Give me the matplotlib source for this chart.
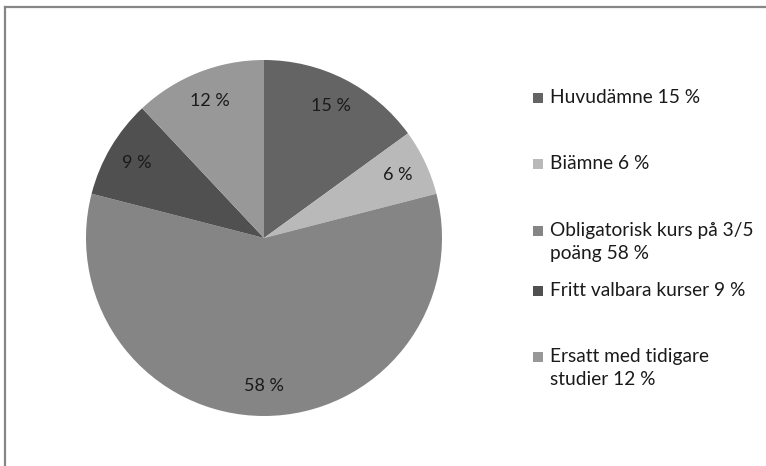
import matplotlib
matplotlib.use("Agg")
import matplotlib.pyplot as plt
from matplotlib.lines import Line2D
from matplotlib.patches import Rectangle

plt.rcParams['font.family'] = ['Lato', 'DejaVu Sans']

# Data
categories = ['Huvudämne', 'Biämne', 'Obligatorisk kurs på 3/5\npoäng', 'Fritt valbara kurser',
              'Ersatt med tidigare\nstudier']
values = [15, 6, 58, 9, 12]
colors = ['#646464', '#b9b9b9', '#858585', '#505050', '#989898']

W, H = 766, 466
fig = plt.figure(figsize=(W / 100, H / 100), dpi=100)

# pie axes, centre (264, 238) px, radius 178 px
cx, cy, r = 264, 238, 178
ax = fig.add_axes([(cx - r) / W, (H - cy - r) / H, 2 * r / W, 2 * r / H])
wedges, texts, autotexts = ax.pie(values, colors=colors, startangle=90, counterclock=False,
                                  autopct=lambda p: f'{p:.0f} %', pctdistance=0.83,
                                  textprops=dict(fontsize=13, color='#1a1a1a'))
ax.set_xlim(-1, 1)
ax.set_ylim(-1, 1)
ax.set_aspect('equal')

# legend drawn by hand (Excel-style spacing); y = baseline of first line in px
legend_y = [103, 169, 236, 296, 362]
line_gap = 23
for lab, val, col, y in zip(categories, values, colors, legend_y):
    fig.patches.append(Rectangle((533 / W, 1 - y / H), 10 / W, 10 / H,
                                 transform=fig.transFigure, facecolor=col, edgecolor='none'))
    for i, line in enumerate(f'{lab} {val} %'.split('\n')):
        fig.text(550 / W, 1 - (y + i * line_gap) / H, line, fontsize=13.8, color='#1a1a1a',
                 va='baseline', ha='left')

# outer frame (top and left)
fig.lines.append(Line2D([5 / W, 1], [1 - 7 / H, 1 - 7 / H], transform=fig.transFigure,
                        color='#868686', linewidth=1.6))
fig.lines.append(Line2D([5 / W, 5 / W], [0, 1 - 7 / H], transform=fig.transFigure,
                        color='#868686', linewidth=1.6))

fig.savefig('out.png', dpi=100)
